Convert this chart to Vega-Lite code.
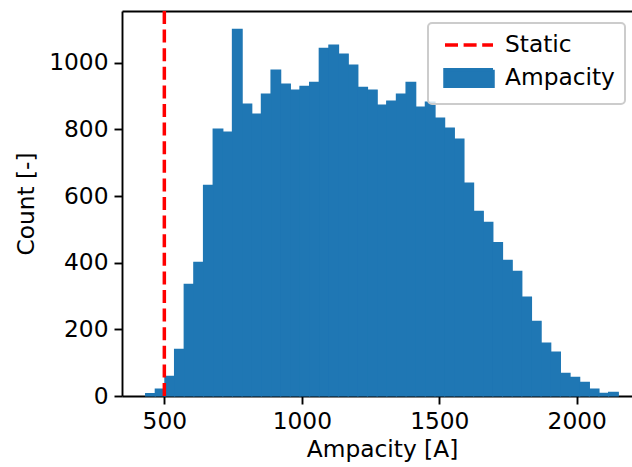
{
  "$schema": "https://vega.github.io/schema/vega-lite/v6.json",
  "width": 510,
  "height": 385,
  "autosize": "none",
  "padding": {"left": 122, "top": 11, "right": 0, "bottom": 71},
  "config": {
    "view": {"stroke": null},
    "font": "DejaVu Sans",
    "axis": {
      "domainColor": "black", "domainWidth": 1.9,
      "tickColor": "black", "tickWidth": 1.9, "tickSize": 8,
      "labelFontSize": 23.3, "labelColor": "black", "labelFont": "DejaVu Sans",
      "titleFont": "DejaVu Sans", "titleFontSize": 23.3, "titleFontWeight": "normal", "titleColor": "black",
      "grid": false, "labelPadding": 6
    }
  },
  "datasets": {
    "hist": [
      {"b0": 432.0, "b1": 467.1, "count": 7, "series": "Ampacity"},
      {"b0": 467.1, "b1": 502.2, "count": 21, "series": "Ampacity"},
      {"b0": 502.2, "b1": 537.2, "count": 59, "series": "Ampacity"},
      {"b0": 537.2, "b1": 572.3, "count": 140, "series": "Ampacity"},
      {"b0": 572.3, "b1": 607.4, "count": 335, "series": "Ampacity"},
      {"b0": 607.4, "b1": 642.5, "count": 401, "series": "Ampacity"},
      {"b0": 642.5, "b1": 677.6, "count": 632, "series": "Ampacity"},
      {"b0": 677.6, "b1": 712.7, "count": 801, "series": "Ampacity"},
      {"b0": 712.7, "b1": 747.7, "count": 792, "series": "Ampacity"},
      {"b0": 747.7, "b1": 782.8, "count": 1100, "series": "Ampacity"},
      {"b0": 782.8, "b1": 817.9, "count": 876, "series": "Ampacity"},
      {"b0": 817.9, "b1": 853.0, "count": 846, "series": "Ampacity"},
      {"b0": 853.0, "b1": 888.1, "count": 906, "series": "Ampacity"},
      {"b0": 888.1, "b1": 923.1, "count": 978, "series": "Ampacity"},
      {"b0": 923.1, "b1": 958.2, "count": 936, "series": "Ampacity"},
      {"b0": 958.2, "b1": 993.3, "count": 918, "series": "Ampacity"},
      {"b0": 993.3, "b1": 1028.4, "count": 929, "series": "Ampacity"},
      {"b0": 1028.4, "b1": 1063.5, "count": 941, "series": "Ampacity"},
      {"b0": 1063.5, "b1": 1098.6, "count": 1043, "series": "Ampacity"},
      {"b0": 1098.6, "b1": 1133.6, "count": 1053, "series": "Ampacity"},
      {"b0": 1133.6, "b1": 1168.7, "count": 1026, "series": "Ampacity"},
      {"b0": 1168.7, "b1": 1203.8, "count": 993, "series": "Ampacity"},
      {"b0": 1203.8, "b1": 1238.9, "count": 926, "series": "Ampacity"},
      {"b0": 1238.9, "b1": 1274.0, "count": 918, "series": "Ampacity"},
      {"b0": 1274.0, "b1": 1309.0, "count": 873, "series": "Ampacity"},
      {"b0": 1309.0, "b1": 1344.1, "count": 885, "series": "Ampacity"},
      {"b0": 1344.1, "b1": 1379.2, "count": 906, "series": "Ampacity"},
      {"b0": 1379.2, "b1": 1414.3, "count": 941, "series": "Ampacity"},
      {"b0": 1414.3, "b1": 1449.4, "count": 867, "series": "Ampacity"},
      {"b0": 1449.4, "b1": 1484.5, "count": 882, "series": "Ampacity"},
      {"b0": 1484.5, "b1": 1519.5, "count": 834, "series": "Ampacity"},
      {"b0": 1519.5, "b1": 1554.6, "count": 804, "series": "Ampacity"},
      {"b0": 1554.6, "b1": 1589.7, "count": 771, "series": "Ampacity"},
      {"b0": 1589.7, "b1": 1624.8, "count": 639, "series": "Ampacity"},
      {"b0": 1624.8, "b1": 1659.9, "count": 554, "series": "Ampacity"},
      {"b0": 1659.9, "b1": 1694.9, "count": 521, "series": "Ampacity"},
      {"b0": 1694.9, "b1": 1730.0, "count": 460, "series": "Ampacity"},
      {"b0": 1730.0, "b1": 1765.1, "count": 407, "series": "Ampacity"},
      {"b0": 1765.1, "b1": 1800.2, "count": 374, "series": "Ampacity"},
      {"b0": 1800.2, "b1": 1835.3, "count": 297, "series": "Ampacity"},
      {"b0": 1835.3, "b1": 1870.3, "count": 224, "series": "Ampacity"},
      {"b0": 1870.3, "b1": 1905.4, "count": 159, "series": "Ampacity"},
      {"b0": 1905.4, "b1": 1940.5, "count": 132, "series": "Ampacity"},
      {"b0": 1940.5, "b1": 1975.6, "count": 68, "series": "Ampacity"},
      {"b0": 1975.6, "b1": 2010.7, "count": 56, "series": "Ampacity"},
      {"b0": 2010.7, "b1": 2045.8, "count": 41, "series": "Ampacity"},
      {"b0": 2045.8, "b1": 2080.8, "count": 21, "series": "Ampacity"},
      {"b0": 2080.8, "b1": 2115.9, "count": 8, "series": "Ampacity"},
      {"b0": 2115.9, "b1": 2151.0, "count": 11, "series": "Ampacity"}
    ],
    "static": [{"ampacity": 500, "series": "Static"}]
  },
  "layer": [
    {
      "data": {"name": "hist"},
      "mark": {"type": "rect", "fill": "#1f77b4", "stroke": "#1f77b4", "strokeWidth": 1.2},
      "encoding": {
        "x": {"field": "b0", "type": "quantitative",
          "scale": {"domain": [346, 2201], "nice": false, "zero": false}, "axis": null},
        "x2": {"field": "b1"},
        "y": {"field": "count", "type": "quantitative",
          "scale": {"domain": [0, 1155], "nice": false},
          "axis": {"values": [0, 200, 400, 600, 800, 1000], "format": "d", "title": "Count [-]", "titlePadding": 10}},
        "y2": {"datum": 0}
      }
    },
    {
      "data": {"name": "hist"},
      "mark": {"type": "rect", "strokeWidth": 0},
      "encoding": {
        "x": {"field": "b0", "type": "quantitative",
          "scale": {"domain": [346, 2201], "nice": false, "zero": false},
          "axis": {"values": [500, 1000, 1500, 2000], "format": "d", "title": "Ampacity [A]", "titleX": 260, "titlePadding": 6}},
        "x2": {"field": "b1"},
        "y": {"field": "count", "type": "quantitative",
          "scale": {"domain": [0, 1155], "nice": false},
          "axis": {"values": [0, 200, 400, 600, 800, 1000], "format": "d", "title": "Count [-]", "titlePadding": 10}},
        "y2": {"datum": 0},
        "color": {"field": "series", "type": "nominal",
          "scale": {"domain": ["Static", "Ampacity"], "range": ["#ff0000", "#1f77b4"]},
          "legend": {
            "title": null, "orient": "none", "legendX": 306, "legendY": 12,
            "padding": 10, "fillColor": "rgba(255,255,255,0.8)", "strokeColor": "#cccccc", "cornerRadius": 4,
            "labelFontSize": 23.3, "labelFont": "DejaVu Sans", "labelColor": "black",
            "symbolSize": 400, "rowPadding": 5, "labelOffset": 43,
            "encode": {
              "legend": {"update": {"strokeWidth": {"value": 2}}},
              "symbols": {"update": {
                "shape": {"signal": "datum.value === 'Static' ? 'M-0.5,0H4.3' : 'M-0.5,-0.82H4.3V0.82H-0.5Z'"},
                "fill": {"signal": "datum.value === 'Static' ? 'transparent' : '#1f77b4'"},
                "stroke": {"signal": "datum.value === 'Static' ? '#ff0000' : 'transparent'"},
                "strokeDash": {"signal": "datum.value === 'Static' ? [13, 5.6] : [1, 0]"},
                "strokeWidth": {"value": 3.5},
                "opacity": {"value": 1},
                "fillOpacity": {"value": 1},
                "strokeOpacity": {"value": 1}
              }}
            }
          }}
      }
    },
    {
      "data": {"name": "static"},
      "mark": {"type": "rule", "strokeWidth": 3.5, "strokeDash": [13, 5.6]},
      "encoding": {
        "x": {"field": "ampacity", "type": "quantitative",
          "axis": {"orient": "top", "labels": false, "ticks": false, "title": null, "domain": true}},
        "color": {"field": "series", "type": "nominal"}
      }
    }
  ],
  "resolve": {"axis": {"x": "independent"}}
}
